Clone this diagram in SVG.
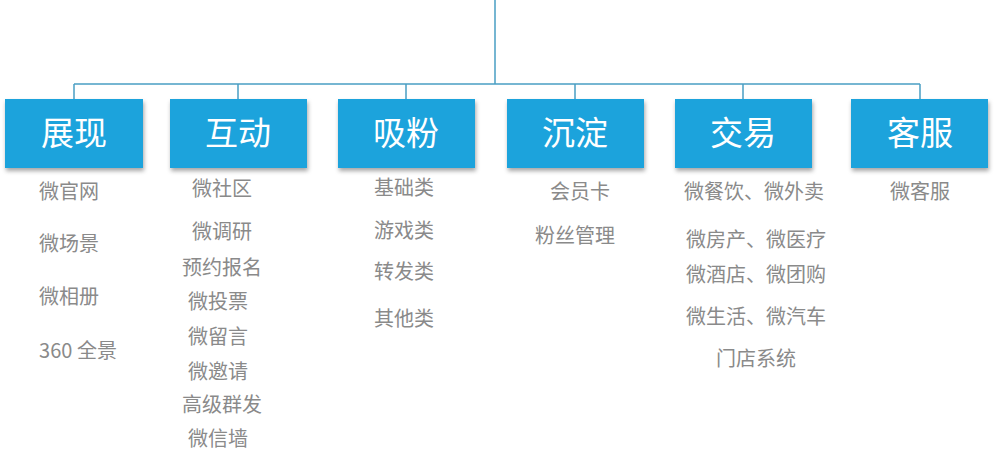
<svg xmlns="http://www.w3.org/2000/svg" width="998" height="452" viewBox="0 0 998 452">
<defs><filter id="sh" x="-10%" y="-10%" width="120%" height="130%"><feDropShadow dx="1" dy="3" stdDeviation="2" flood-color="#000" flood-opacity="0.35"/></filter></defs>
<style>
.b{fill:#1fa3dc;filter:url(#sh)}
.t{font-family:"Noto Sans CJK SC",sans-serif;font-size:33px;fill:#fff;text-anchor:middle}
.s{font-family:"Noto Sans CJK SC",sans-serif;font-size:20px;fill:#8a8a8a;text-anchor:middle}
.c{stroke:#4a9fc4;stroke-width:1.5;fill:none}
</style>
<rect width="998" height="452" fill="#fff"/>
<g id="connectors">
<path class="c" d="M495 0V84M74 84H920M74 84V99M238 84V99M406 84V99M575 84V99M743 84V99M920 84V99"/>
</g>
<g id="n1"><rect class="b" x="5" y="99" width="138" height="69"/><text class="t" x="74" y="145">展现</text>
<text class="s" x="69" y="199">微官网</text><text class="s" x="69" y="251">微场景</text><text class="s" x="69" y="304">微相册</text><text class="s" x="78" y="358">360 全景</text></g>
<g id="n2"><rect class="b" x="170" y="99" width="137" height="69"/><text class="t" x="238" y="145">互动</text>
<text class="s" x="222" y="196">微社区</text><text class="s" x="222" y="239">微调研</text><text class="s" x="222" y="275">预约报名</text><text class="s" x="218" y="309">微投票</text><text class="s" x="218" y="344">微留言</text><text class="s" x="218" y="379">微邀请</text><text class="s" x="222" y="412">高级群发</text><text class="s" x="218" y="446">微信墙</text></g>
<g id="n3"><rect class="b" x="338" y="99" width="137" height="69"/><text class="t" x="406" y="145">吸粉</text>
<text class="s" x="404" y="195">基础类</text><text class="s" x="404" y="238">游戏类</text><text class="s" x="404" y="279">转发类</text><text class="s" x="404" y="326">其他类</text></g>
<g id="n4"><rect class="b" x="507" y="99" width="137" height="69"/><text class="t" x="575" y="145">沉淀</text>
<text class="s" x="580" y="199">会员卡</text><text class="s" x="575" y="243">粉丝管理</text></g>
<g id="n5"><rect class="b" x="675" y="99" width="137" height="69"/><text class="t" x="743" y="145">交易</text>
<text class="s" x="754" y="199">微餐饮、微外卖</text><text class="s" x="756" y="247">微房产、微医疗</text><text class="s" x="756" y="282">微酒店、微团购</text><text class="s" x="756" y="324">微生活、微汽车</text><text class="s" x="756" y="366">门店系统</text></g>
<g id="n6"><rect class="b" x="851" y="99" width="137" height="69"/><text class="t" x="920" y="145">客服</text>
<text class="s" x="920" y="199">微客服</text></g>
</svg>
